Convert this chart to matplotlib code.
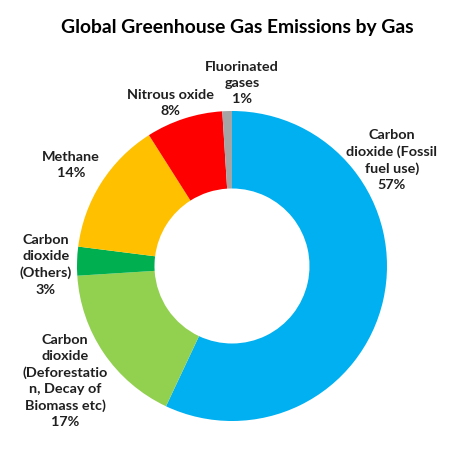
import matplotlib
matplotlib.use('Agg')
import matplotlib.pyplot as plt

plt.rcParams['font.family'] = ['Lato', 'DejaVu Sans']

# Slices clockwise from 12 o'clock
gases = ['Carbon\ndioxide (Fossil\nfuel use)',
         'Carbon\ndioxide\n(Deforestatio\nn, Decay of\nBiomass etc)',
         'Carbon\ndioxide\n(Others)',
         'Methane',
         'Nitrous oxide',
         'Fluorinated\ngases']
shares = [57, 17, 3, 14, 8, 1]
colors = ['#00B0F0', '#92D050', '#00B050', '#FFC000', '#FF0000', '#A5A5A5']

# label centres in figure fraction (Excel placed them by hand)
label_pos = [(0.827, 0.651), (0.137, 0.170), (0.097, 0.423),
             (0.150, 0.641), (0.359, 0.776), (0.511, 0.819)]

W, H = 474, 459
cx, cy, r = 232, 266, 155

fig = plt.figure(figsize=(W / 100, H / 100), dpi=100)
ax = fig.add_axes([0, 0, 1, 1])

ax.pie(shares, colors=colors, startangle=90, counterclock=False,
       radius=1, wedgeprops=dict(width=0.5, linewidth=0))

# pie() resets the limits, so set them afterwards
ax.set_aspect('equal')
ax.set_xlim(-cx / r, (W - cx) / r)
ax.set_ylim(-(H - cy) / r, cy / r)
ax.axis('off')

for name, pct, (x, y) in zip(gases, shares, label_pos):
    fig.text(x, y, f"{name}\n{pct}%", ha='center', va='center',
             fontsize=10.4, fontweight='bold', color='#1f1f1f',
             linespacing=1.42)

fig.text(0.5, 0.941, 'Global Greenhouse Gas Emissions by Gas',
         ha='center', va='center', fontsize=13.9, fontweight='bold',
         color='black')

plt.savefig('out.png', dpi=100)
